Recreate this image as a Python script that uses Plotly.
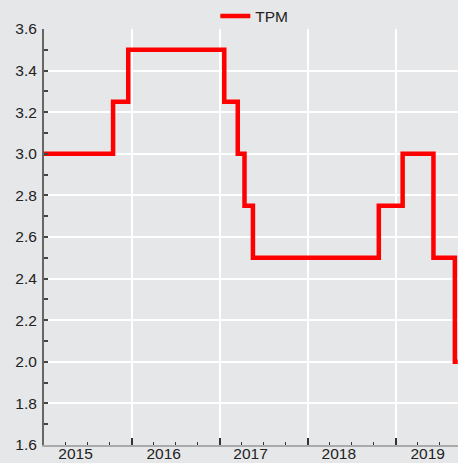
import plotly.graph_objects as go

# Policy rate (TPM) change dates and levels
change_dates = ["2015-01-01", "2015-10-15", "2015-12-17", "2017-01-19", "2017-03-16",
                "2017-04-13", "2017-05-18", "2018-10-23", "2019-01-30", "2019-06-07",
                "2019-09-04", "2019-09-16"]
tpm_values = [3.0, 3.25, 3.5, 3.25, 3.0, 2.75, 2.5, 2.75, 3.0, 2.5, 2.0, 2.0]

year_bounds = ["2015-01-01", "2016-01-01", "2017-01-01", "2018-01-01", "2019-01-01"]
year_label_pos = ["2015-05-12", "2016-05-12", "2017-05-08", "2018-05-10", "2019-05-14"]
year_labels = ["2015", "2016", "2017", "2018", "2019"]

x_range = ["2015-01-01", "2019-09-17"]
bg = "#e6e7e9"
font = dict(family="Liberation Sans, Arial, sans-serif", size=15.5, color="#222222")

fig = go.Figure()
fig.add_trace(go.Scatter(x=change_dates, y=tpm_values, mode="lines", name="TPM",
                         line=dict(color="#ff0000", width=4.5, shape="hv")))
# invisible trace to carry the label axis
fig.add_trace(go.Scatter(x=x_range, y=[None, None], xaxis="x2", showlegend=False,
                         hoverinfo="skip"))

fig.update_layout(
    width=458, height=463,
    margin=dict(l=44, r=0, t=29, b=18, autoexpand=False),
    paper_bgcolor=bg, plot_bgcolor=bg,
    font=font,
    showlegend=True,
    legend=dict(orientation="h", x=0.508, xanchor="center", y=1.03, yanchor="middle",
                bgcolor="rgba(0,0,0,0)", font=font, itemwidth=30),
    xaxis=dict(type="date", range=x_range, tickvals=year_bounds,
               ticktext=[""] * len(year_bounds), automargin=False,
               showgrid=True, gridcolor="#ffffff", gridwidth=1.5,
               ticks="inside", ticklen=7, tickwidth=1.5, tickcolor="#333333",
               minor=dict(dtick="M3", tick0="2015-01-01", ticks="inside", ticklen=3,
                          tickwidth=1, tickcolor="#333333", showgrid=False),
               showline=True, linecolor="#aaaaaa", linewidth=2, zeroline=False),
    xaxis2=dict(type="date", range=x_range, overlaying="x", side="bottom",
                tickvals=year_label_pos, ticktext=year_labels, ticks="",
                automargin=False, ticklabelstandoff=-3,
                showgrid=False, showline=False, zeroline=False, tickfont=font),
    yaxis=dict(range=[1.6, 3.6], dtick=0.2, tick0=1.6, tickformat=".1f",
               automargin=False, ticklabelstandoff=2,
               showgrid=True, gridcolor="#ffffff", gridwidth=1.5,
               ticks="inside", ticklen=4, tickwidth=1.5, tickcolor="#444444",
               minor=dict(dtick=0.1, ticks="inside", ticklen=4, tickwidth=1.5,
                          tickcolor="#444444", showgrid=False),
               showline=True, linecolor="#666666", linewidth=2, zeroline=False,
               tickfont=font),
)

fig.write_html("out.html",
               config={"displayModeBar": False},
               post_script="document.body.style.margin='0';"
                           "document.body.style.overflow='hidden';")
